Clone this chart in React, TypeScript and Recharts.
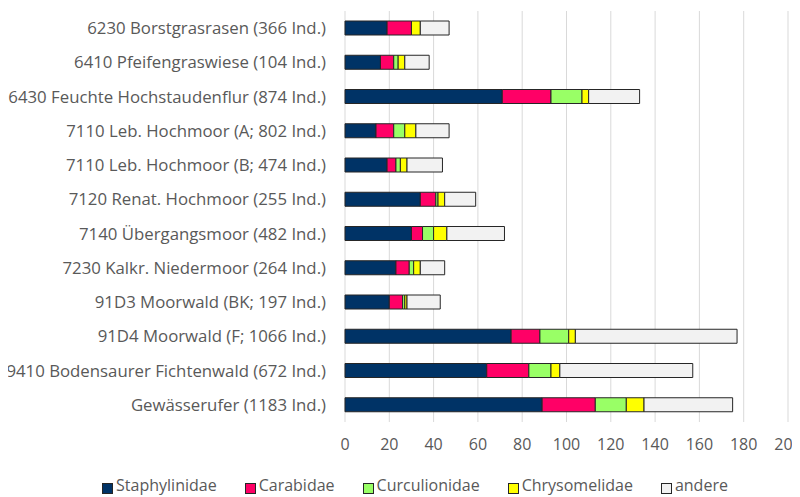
import React from "react"
import { BarChart, Bar, XAxis, YAxis, CartesianGrid } from "recharts"

const categories = [
  "6230 Borstgrasrasen (366 Ind.)",
  "6410 Pfeifengraswiese (104 Ind.)",
  "6430 Feuchte Hochstaudenflur (874 Ind.)",
  "7110 Leb. Hochmoor (A; 802 Ind.)",
  "7110 Leb. Hochmoor (B; 474 Ind.)",
  "7120 Renat. Hochmoor (255 Ind.)",
  "7140 Übergangsmoor (482 Ind.)",
  "7230 Kalkr. Niedermoor (264 Ind.)",
  "91D3 Moorwald (BK; 197 Ind.)",
  "91D4 Moorwald (F; 1066 Ind.)",
  "9410 Bodensaurer Fichtenwald (672 Ind.)",
  "Gewässerufer (1183 Ind.)",
]

const staphylinidae = [19, 16, 71, 14, 19, 34, 30, 23, 20, 75, 64, 89]
const carabidae = [11, 6, 22, 8, 4, 7, 5, 6, 6, 13, 19, 24]
const curculionidae = [0, 2, 14, 5, 2, 1, 5, 2, 1, 13, 10, 14]
const chrysomelidae = [4, 3, 3, 5, 3, 3, 6, 3, 1, 3, 4, 8]
const andere = [13, 11, 23, 15, 16, 14, 26, 11, 15, 73, 60, 40]

const xTicks = [0, 20, 40, 60, 80, 100, 120, 140, 160, 180, 200]

const series = [
  { key: "Staphylinidae", color: "#003366", values: staphylinidae },
  { key: "Carabidae", color: "#ff0066", values: carabidae },
  { key: "Curculionidae", color: "#99ff66", values: curculionidae },
  { key: "Chrysomelidae", color: "#ffff00", values: chrysomelidae },
  { key: "andere", color: "#f2f2f2", values: andere },
]

const data = categories.map((name, i) => {
  const row: Record<string, string | number> = { name }
  series.forEach((s) => {
    row[s.key] = s.values[i]
  })
  return row
})

const font = "'Open Sans', sans-serif"
const textColor = "#595959"

function LegendRow() {
  return (
    <div
      style={{
        display: "flex",
        justifyContent: "center",
        gap: 28,
        fontFamily: font,
        fontSize: 16,
        color: textColor,
        height: 16,
        alignItems: "center",
        paddingLeft: 30,
      }}
    >
      {series.map((s) => (
        <div key={s.key} style={{ display: "flex", alignItems: "center", gap: 3, lineHeight: "16px" }}>
          <span
            style={{
              width: 9,
              height: 9,
              background: s.color,
              border: "1px solid #262626",
              display: "inline-block",
              position: "relative",
              top: 3,
            }}
          />
          {s.key}
        </div>
      ))}
    </div>
  )
}

export default function App() {
  return (
    <div style={{ margin: "-8px 0 0 -8px", width: 800, height: 497, overflow: "hidden", position: "relative", background: "#fff" }}>
      <BarChart
        width={830}
        height={455}
        data={data}
        layout="vertical"
        barSize={14}
        margin={{ top: 11, right: 42, bottom: 0, left: 0 }}
      >
        <CartesianGrid horizontal={false} stroke="#d9d9d9" strokeWidth={1} />
        <XAxis
          type="number"
          domain={[0, 200]}
          ticks={xTicks}
          axisLine={false}
          tickLine={false}
          tickMargin={11}
          height={33}
          tick={{ fill: textColor, fontSize: 16, fontFamily: font }}
        />
        <YAxis
          type="category"
          dataKey="name"
          width={345}
          axisLine={false}
          tickLine={false}
          tickMargin={13}
          interval={0}
          tick={{ fill: textColor, fontSize: 16.8, fontFamily: font }}
        />
        {series.map((s) => (
          <Bar
            key={s.key}
            dataKey={s.key}
            stackId="a"
            fill={s.color}
            stroke="#262626"
            strokeWidth={1}
            isAnimationActive={false}
          />
        ))}
      </BarChart>
      <div style={{ position: "absolute", left: 0, top: 477, width: 800 }}>
        <LegendRow />
      </div>
    </div>
  )
}
